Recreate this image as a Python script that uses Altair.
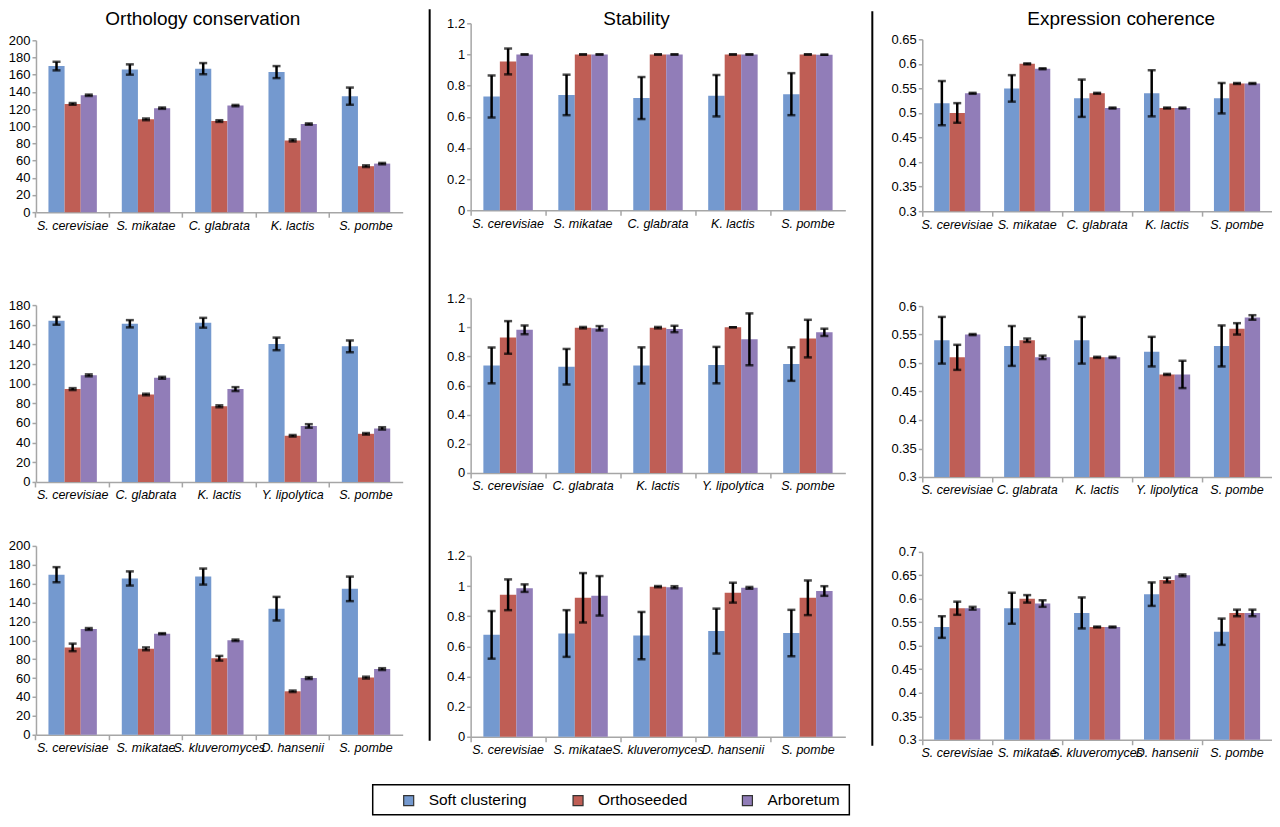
import altair as alt
import pandas as pd

SERIES = ["Soft clustering", "Orthoseeded", "Arboretum"]
COLORS = ["#7499CF", "#BF5E55", "#917DB8"]

SPECIES_R1 = ["S. cerevisiae", "S. mikatae", "C. glabrata", "K. lactis", "S. pombe"]
SPECIES_R2 = ["S. cerevisiae", "C. glabrata", "K. lactis", "Y. lipolytica", "S. pombe"]
SPECIES_R3 = ["S. cerevisiae", "S. mikatae", "S. kluveromyces", "D. hansenii", "S. pombe"]

TITLES = ["Orthology conservation", "Stability", "Expression coherence"]

# ---- Orthology conservation ----
ORTH_R1_SOFT = [170, 166, 167, 163, 135]
ORTH_R1_SOFT_ERR = [5, 6, 6.5, 7, 10]
ORTH_R1_ORTHO = [126, 108, 106, 83.5, 53.5]
ORTH_R1_ORTHO_ERR = [1, 1, 1, 1.2, 1]
ORTH_R1_ARBOR = [136, 121, 124, 102.5, 56.5]
ORTH_R1_ARBOR_ERR = [0.8, 0.8, 0.8, 0.8, 0.8]

ORTH_R2_SOFT = [164, 161, 162, 140.5, 138]
ORTH_R2_SOFT_ERR = [4, 3.7, 5, 6.4, 6]
ORTH_R2_ORTHO = [94.5, 89, 77, 47, 49]
ORTH_R2_ORTHO_ERR = [1, 0.8, 1, 0.8, 0.8]
ORTH_R2_ARBOR = [108.5, 106, 94.5, 57, 54.5]
ORTH_R2_ARBOR_ERR = [1, 1, 2, 1.8, 1.2]

ORTH_R3_SOFT = [169.5, 165.5, 167.5, 133.5, 154.5]
ORTH_R3_SOFT_ERR = [8, 7.5, 8.5, 12.5, 13]
ORTH_R3_ORTHO = [92.5, 91, 81, 46, 60.5]
ORTH_R3_ORTHO_ERR = [4, 1.5, 2.5, 0.8, 1]
ORTH_R3_ARBOR = [112, 107, 100, 60, 69.5]
ORTH_R3_ARBOR_ERR = [1, 0.6, 0.8, 1, 1]

# ---- Stability ----
STAB_R1_SOFT = [0.73, 0.74, 0.72, 0.735, 0.745]
STAB_R1_SOFT_ERR = [0.135, 0.13, 0.135, 0.133, 0.135]
STAB_R1_ORTHO = [0.955, 1.0, 1.0, 1.0, 1.0]
STAB_R1_ORTHO_ERR = [0.083, 0, 0, 0, 0]
STAB_R1_ARBOR = [1.0, 1.0, 1.0, 1.0, 0.998]
STAB_R1_ARBOR_ERR = [0, 0, 0, 0, 0]

STAB_R2_SOFT = [0.738, 0.729, 0.738, 0.74, 0.747]
STAB_R2_SOFT_ERR = [0.123, 0.122, 0.124, 0.125, 0.115]
STAB_R2_ORTHO = [0.93, 0.997, 0.997, 1.0, 0.922]
STAB_R2_ORTHO_ERR = [0.112, 0.005, 0.005, 0.0, 0.129]
STAB_R2_ARBOR = [0.982, 0.993, 0.988, 0.917, 0.965]
STAB_R2_ARBOR_ERR = [0.03, 0.015, 0.022, 0.178, 0.025]

STAB_R3_SOFT = [0.676, 0.685, 0.671, 0.701, 0.688]
STAB_R3_SOFT_ERR = [0.158, 0.155, 0.157, 0.149, 0.154]
STAB_R3_ORTHO = [0.942, 0.922, 0.996, 0.956, 0.922]
STAB_R3_ORTHO_ERR = [0.102, 0.164, 0.004, 0.066, 0.115]
STAB_R3_ARBOR = [0.986, 0.935, 0.992, 0.988, 0.967]
STAB_R3_ARBOR_ERR = [0.025, 0.131, 0.007, 0.006, 0.032]

# ---- Expression coherence ----
EXPR_R1_SOFT = [0.52, 0.55, 0.53, 0.54, 0.53]
EXPR_R1_SOFT_ERR = [0.045, 0.027, 0.038, 0.047, 0.031]
EXPR_R1_ORTHO = [0.50, 0.60, 0.54, 0.51, 0.56]
EXPR_R1_ORTHO_ERR = [0.02, 0.001, 0.001, 0.001, 0.001]
EXPR_R1_ARBOR = [0.54, 0.59, 0.51, 0.51, 0.56]
EXPR_R1_ARBOR_ERR = [0.001, 0.001, 0.001, 0.001, 0.001]

EXPR_R2_SOFT = [0.54, 0.53, 0.54, 0.52, 0.53]
EXPR_R2_SOFT_ERR = [0.041, 0.035, 0.041, 0.026, 0.036]
EXPR_R2_ORTHO = [0.51, 0.54, 0.51, 0.48, 0.56]
EXPR_R2_ORTHO_ERR = [0.022, 0.003, 0.001, 0.001, 0.01]
EXPR_R2_ARBOR = [0.55, 0.51, 0.51, 0.48, 0.58]
EXPR_R2_ARBOR_ERR = [0.001, 0.003, 0.001, 0.024, 0.004]

EXPR_R3_SOFT = [0.54, 0.58, 0.57, 0.61, 0.53]
EXPR_R3_SOFT_ERR = [0.023, 0.033, 0.033, 0.025, 0.028]
EXPR_R3_ORTHO = [0.58, 0.60, 0.54, 0.64, 0.57]
EXPR_R3_ORTHO_ERR = [0.014, 0.008, 0.001, 0.005, 0.007]
EXPR_R3_ARBOR = [0.58, 0.59, 0.54, 0.65, 0.57]
EXPR_R3_ARBOR_ERR = [0.003, 0.007, 0.001, 0.002, 0.007]

# ---- tick labels ----
ORTH_TICKS_200 = [0, 20, 40, 60, 80, 100, 120, 140, 160, 180, 200]
ORTH_TICKS_180 = [0, 20, 40, 60, 80, 100, 120, 140, 160, 180]
STAB_TICKS = [0, 0.2, 0.4, 0.6, 0.8, 1, 1.2]
EXPR_TICKS_065 = [0.3, 0.35, 0.4, 0.45, 0.5, 0.55, 0.6, 0.65]
EXPR_TICKS_060 = [0.3, 0.35, 0.4, 0.45, 0.5, 0.55, 0.6]
EXPR_TICKS_070 = [0.3, 0.35, 0.4, 0.45, 0.5, 0.55, 0.6, 0.65, 0.7]

FONT = "Liberation Sans"
PAD_INNER = 0.34
PAD_OUTER = 0.17
AXIS_GRAY = "#A6A6A6"


def panel(cats, vals, errs, ticks, fmt, width, height, title=None, title_x=0, title_y=0):
    rows = []
    for s, v, e in zip(SERIES, vals, errs):
        for c, vv, ee in zip(cats, v, e):
            rows.append(dict(cat=c, series=s, value=vv, lo=vv - ee, hi=vv + ee))
    df = pd.DataFrame(rows)
    ymin, ymax = ticks[0], ticks[-1]
    xscale = alt.Scale(paddingInner=PAD_INNER, paddingOuter=PAD_OUTER)
    xa_labels = alt.Axis(orient="bottom", title=None, labelAngle=0, ticks=False,
                         labelFontStyle="italic", labelPadding=7, labelOverlap=False,
                         labelLimit=0, labelBound=False, labelFontSize=12.5)
    xa_ticks = alt.Axis(orient="bottom", title=None, labels=False, domain=False, ticks=True,
                        tickSize=5, tickColor=AXIS_GRAY, tickWidth=1.5,
                        bandPosition=-PAD_INNER / (2 * (1 - PAD_INNER)))
    xo = alt.XOffset("series:N", sort=SERIES, scale=alt.Scale(paddingInner=0, paddingOuter=0))
    yscale = alt.Scale(domain=[ymin, ymax], nice=False, zero=False)
    yaxis = alt.Axis(title=None, values=ticks, format=fmt, tickSize=4, labelPadding=2,
                     labelOverlap=False, labelFlush=False)
    base = alt.Chart(df)
    bars = base.mark_bar().encode(
        x=alt.X("cat:N", sort=cats, scale=xscale, axis=xa_labels), xOffset=xo,
        y=alt.Y("value:Q", scale=yscale, axis=yaxis),
        y2=alt.datum(ymin),
        color=alt.Color("series:N", scale=alt.Scale(domain=SERIES, range=COLORS), legend=None),
    )
    rule = base.mark_rule(color="black", strokeWidth=2.5).encode(
        x=alt.X("cat:N", sort=cats, scale=xscale, axis=xa_ticks), xOffset=xo,
        y=alt.Y("lo:Q", scale=yscale, axis=yaxis), y2="hi:Q")
    t_hi = base.mark_tick(color="black", thickness=2.5, size=8).encode(
        x=alt.X("cat:N", sort=cats, scale=xscale, axis=None), xOffset=xo,
        y=alt.Y("hi:Q", scale=yscale, axis=yaxis))
    t_lo = base.mark_tick(color="black", thickness=2.5, size=8).encode(
        x=alt.X("cat:N", sort=cats, scale=xscale, axis=None), xOffset=xo,
        y=alt.Y("lo:Q", scale=yscale, axis=yaxis))
    layers = [bars, rule, t_lo, t_hi]
    if title is not None:
        ttl = alt.Chart(pd.DataFrame({"t": [title]})).mark_text(
            font=FONT, fontSize=19, color="black", align="center", baseline="middle"
        ).encode(x=alt.value(title_x), y=alt.value(title_y), text="t:N")
        layers.append(ttl)
    return alt.layer(*layers).resolve_axis(x="independent").properties(width=width, height=height)


def spacer():
    return alt.Chart(pd.DataFrame({"a": [0]})).mark_rule(opacity=0).encode(
        x=alt.value(0), y=alt.value(0), y2=alt.value(1)).properties(width=1, height=1)


def column(p1, p2, p3, s12, s23):
    inner = alt.vconcat(p2, p3, spacing=s23).resolve_scale(xOffset="independent")
    body = alt.vconcat(p1, inner, spacing=s12).resolve_scale(xOffset="independent")
    return alt.vconcat(spacer(), body, spacing=0).resolve_scale(xOffset="independent")


def separator(width, xpos, y0, y1, height):
    return alt.Chart(pd.DataFrame({"a": [0]})).mark_rule(color="black", strokeWidth=2).encode(
        x=alt.value(xpos), y=alt.value(y0), y2=alt.value(y1)
    ).properties(width=width, height=height)


W1, W2, W3 = 367, 375, 350

col1 = column(
    panel(SPECIES_R1, [ORTH_R1_SOFT, ORTH_R1_ORTHO, ORTH_R1_ARBOR],
          [ORTH_R1_SOFT_ERR, ORTH_R1_ORTHO_ERR, ORTH_R1_ARBOR_ERR],
          ORTH_TICKS_200, "d", W1, 172, TITLES[0], 167, -21),
    panel(SPECIES_R2, [ORTH_R2_SOFT, ORTH_R2_ORTHO, ORTH_R2_ARBOR],
          [ORTH_R2_SOFT_ERR, ORTH_R2_ORTHO_ERR, ORTH_R2_ARBOR_ERR],
          ORTH_TICKS_180, "d", W1, 177),
    panel(SPECIES_R3, [ORTH_R3_SOFT, ORTH_R3_ORTHO, ORTH_R3_ARBOR],
          [ORTH_R3_SOFT_ERR, ORTH_R3_ORTHO_ERR, ORTH_R3_ARBOR_ERR],
          ORTH_TICKS_200, "d", W1, 189),
    67, 38)

col2 = column(
    panel(SPECIES_R1, [STAB_R1_SOFT, STAB_R1_ORTHO, STAB_R1_ARBOR],
          [STAB_R1_SOFT_ERR, STAB_R1_ORTHO_ERR, STAB_R1_ARBOR_ERR],
          STAB_TICKS, "~g", W2, 187, TITLES[1], 166, -4),
    panel(SPECIES_R2, [STAB_R2_SOFT, STAB_R2_ORTHO, STAB_R2_ARBOR],
          [STAB_R2_SOFT_ERR, STAB_R2_ORTHO_ERR, STAB_R2_ARBOR_ERR],
          STAB_TICKS, "~g", W2, 175),
    panel(SPECIES_R3, [STAB_R3_SOFT, STAB_R3_ORTHO, STAB_R3_ARBOR],
          [STAB_R3_SOFT_ERR, STAB_R3_ORTHO_ERR, STAB_R3_ARBOR_ERR],
          STAB_TICKS, "~g", W2, 181),
    62, 57)

col3 = column(
    panel(SPECIES_R1, [EXPR_R1_SOFT, EXPR_R1_ORTHO, EXPR_R1_ARBOR],
          [EXPR_R1_SOFT_ERR, EXPR_R1_ORTHO_ERR, EXPR_R1_ARBOR_ERR],
          EXPR_TICKS_065, "~g", W3, 172, TITLES[2], 199, -20),
    panel(SPECIES_R2, [EXPR_R2_SOFT, EXPR_R2_ORTHO, EXPR_R2_ARBOR],
          [EXPR_R2_SOFT_ERR, EXPR_R2_ORTHO_ERR, EXPR_R2_ARBOR_ERR],
          EXPR_TICKS_060, "~g", W3, 171),
    panel(SPECIES_R3, [EXPR_R3_SOFT, EXPR_R3_ORTHO, EXPR_R3_ARBOR],
          [EXPR_R3_SOFT_ERR, EXPR_R3_ORTHO_ERR, EXPR_R3_ARBOR_ERR],
          EXPR_TICKS_070, "~g", W3, 188),
    69, 49)

grid = alt.concat(
    col1, separator(43, 27, 0, 732, 740),
    col2, separator(45, 27, 2, 737, 740),
    col3, columns=5, spacing=0, align="none",
).resolve_scale(xOffset="independent")

# ---- legend ----
leg_df = pd.DataFrame({"series": SERIES})
LEG_X = [373, 712]
leg_box = alt.Chart(pd.DataFrame({"a": [0]})).mark_rect(
    fill="white", stroke="black", strokeWidth=1.5).encode(
    x=alt.value(337), x2=alt.value(814), y=alt.value(1), y2=alt.value(31))
leg_sq = alt.Chart(leg_df).mark_square(size=100, opacity=1, stroke="#333333", strokeWidth=1.2).encode(
    x=alt.X("series:N", scale=alt.Scale(type="point", domain=SERIES, range=LEG_X, padding=0), axis=None),
    y=alt.value(17),
    color=alt.Color("series:N", scale=alt.Scale(domain=SERIES, range=COLORS), legend=None),
)
leg_tx = alt.Chart(leg_df).mark_text(align="left", baseline="middle", dx=20, fontSize=15.5,
                                     font=FONT, color="black").encode(
    x=alt.X("series:N", scale=alt.Scale(type="point", domain=SERIES, range=LEG_X, padding=0), axis=None),
    y=alt.value(16),
    text="series:N",
)
legend = alt.layer(leg_box, leg_sq, leg_tx).properties(width=850, height=32)

chart = alt.concat(grid, legend, columns=1, spacing=24, align="none").resolve_scale(
    xOffset="independent", x="independent"
).properties(padding=0).configure_view(stroke=None).configure_axis(
    domainColor=AXIS_GRAY, domainWidth=1.5, tickColor=AXIS_GRAY, tickWidth=1.5,
    labelColor="black", labelFont=FONT, labelFontSize=13, grid=False,
).configure_axisY(labelOverlap=False)

chart.save("out.html", embed_options={"renderer": "svg", "actions": False})
